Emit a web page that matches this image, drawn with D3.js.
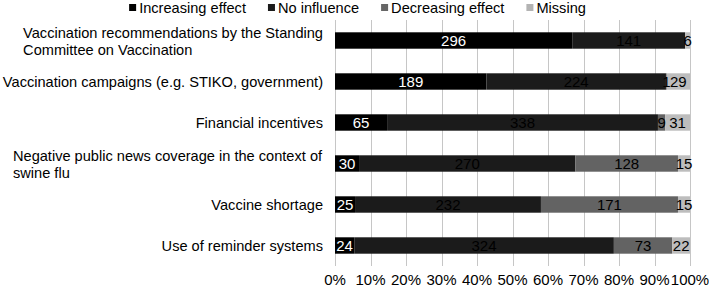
<!DOCTYPE html>
<html>
<head>
<meta charset="utf-8">
<script src="https://cdn.jsdelivr.net/npm/d3@7"></script>
<style>
  body { margin: 0; background: #fff; }
  svg { display: block; font-family: "Liberation Sans", Arial, sans-serif; }
</style>
</head>
<body>
<svg id="chart" width="709" height="288"></svg>
<script>
// ---- data ----
const categories = [
  ["Vaccination recommendations by the Standing", "Committee on Vaccination"],
  ["Vaccination campaigns (e.g. STIKO, government)"],
  ["Financial incentives"],
  ["Negative public news coverage in the context of", "swine flu"],
  ["Vaccine shortage"],
  ["Use of reminder systems"]
];
const seriesNames = ["Increasing effect", "No influence", "Decreasing effect", "Missing"];
const increasing = [296, 189, 65, 30, 25, 24];
const noInfluence = [141, 224, 338, 270, 232, 324];
const decreasing = [0, 1, 9, 128, 171, 73];
const missing = [6, 29, 31, 15, 15, 22];
const tickLabels = ["0%", "10%", "20%", "30%", "40%", "50%", "60%", "70%", "80%", "90%", "100%"];

const colors = ["#000000", "#1b1b1b", "#636363", "#bdbdbd"];
const legendColors = ["#000000", "#1b1b1b", "#666666", "#b3b3b3"];
const labelColors = ["#ffffff", "#000000", "#000000", "#000000"];

(function () {
const FS = 14.6;
// ---- build rows ----
const seriesVals = [increasing, noInfluence, decreasing, missing];
const rows = categories.map((c, i) => {
  const o = { key: i };
  seriesNames.forEach((s, j) => o[s] = seriesVals[j][i]);
  o.total = seriesVals.reduce((a, v) => a + v[i], 0);
  return o;
});
const pctRows = rows.map(r => {
  const o = { key: r.key };
  seriesNames.forEach(s => o[s] = r[s] / r.total);
  return o;
});
const stacked = d3.stack().keys(seriesNames)(pctRows);

const svg = d3.select("#chart");
const mLeft = 335, mRight = 690, mTop = 20, mBottom = 266;

const x = d3.scaleLinear().domain([0, 1]).range([mLeft, mRight]);
const y = d3.scaleBand().domain(d3.range(categories.length)).range([mTop, mBottom]).paddingInner(0.6).paddingOuter(0.3);

// gridlines
const ticks = d3.range(0, 1.0001, 0.1);
svg.append("g").selectAll("line").data(ticks).join("line")
  .attr("x1", d => Math.round(x(d)) + 0.5).attr("x2", d => Math.round(x(d)) + 0.5)
  .attr("y1", mTop).attr("y2", mBottom)
  .attr("stroke", "#c6c6c6").attr("stroke-width", 1);

// tick labels
svg.append("g").selectAll("text").data(ticks).join("text")
  .attr("x", d => x(d)).attr("y", 285)
  .attr("text-anchor", "middle")
  .attr("font-size", 15).attr("fill", "#000")
  .text((d, i) => tickLabels[i]);

// bars
const groups = svg.append("g").selectAll("g").data(stacked).join("g")
  .attr("fill", (d, i) => colors[i]);
groups.selectAll("rect").data(d => d).join("rect")
  .attr("x", d => x(d[0]))
  .attr("width", d => x(d[1]) - x(d[0]))
  .attr("y", d => y(d.data.key))
  .attr("height", y.bandwidth());

// value labels
stacked.forEach((s, si) => {
  svg.append("g").selectAll("text").data(s.filter(d => rows[d.data.key][seriesNames[si]] > 0)).join("text")
    .attr("x", d => (x(d[0]) + x(d[1])) / 2)
    .attr("y", d => y(d.data.key) + y.bandwidth() / 2 + 5.5)
    .attr("text-anchor", "middle")
    .attr("font-size", 15)
    .attr("fill", labelColors[si])
    .text(d => rows[d.data.key][seriesNames[si]]);
});

// category labels (left-aligned block, right-aligned to axis)
categories.forEach((lines, i) => {
  const cy = y(i) + y.bandwidth() / 2;
  const lh = 17;
  const t = svg.append("text").attr("font-size", FS).attr("fill", "#000");
  lines.forEach((ln, k) => {
    t.append("tspan").attr("x", 0).attr("y", cy + 5.5 + (k - (lines.length - 1) / 2) * lh).text(ln);
  });
  const w = t.node().getBBox().width;
  t.attr("transform", `translate(${323 - w},0)`);
});

// legend
const legend = svg.append("g");
const items = [];
seriesNames.forEach((s, i) => {
  const g = legend.append("g");
  g.append("rect").attr("x", 0).attr("y", -4).attr("width", 7).attr("height", 7).attr("fill", legendColors[i]);
  const t = g.append("text").attr("x", 10).attr("y", 5).attr("font-size", FS).attr("fill", "#000").text(s);
  const w = 10 + t.node().getComputedTextLength();
  items.push({ g, w });
});
const gap = 22;
const total = d3.sum(items, d => d.w) + gap * (items.length - 1);
let px = 357.5 - total / 2;
items.forEach(it => { it.g.attr("transform", `translate(${px},8)`); px += it.w + gap; });
})();
</script>
</body>
</html>
